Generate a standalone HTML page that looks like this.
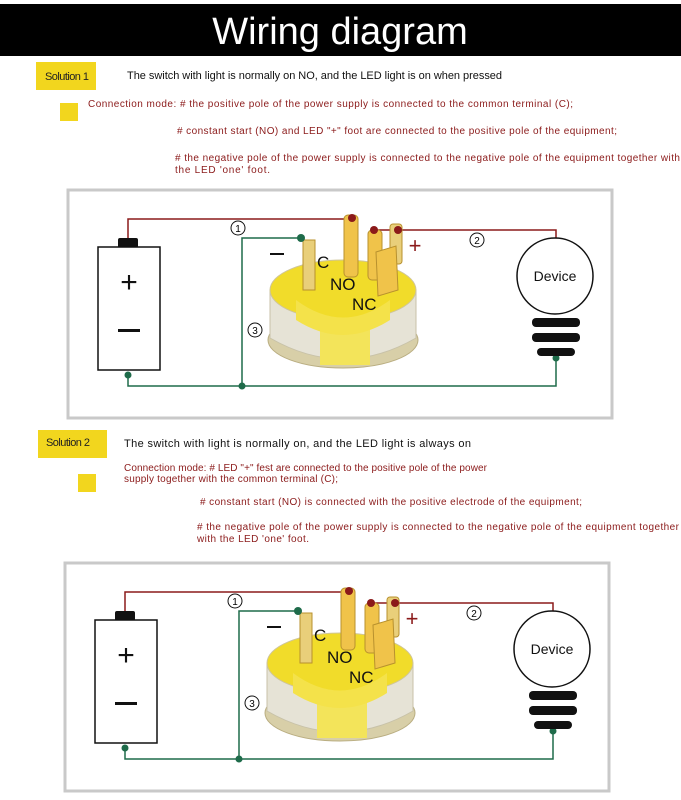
<!DOCTYPE html>
<html><head><meta charset="utf-8"><style>
html,body{margin:0;padding:0;background:#fff;width:681px;height:800px;overflow:hidden}
svg{display:block;font-family:"Liberation Sans",sans-serif}
</style></head><body>
<svg width="681" height="800" viewBox="0 0 681 800" xmlns="http://www.w3.org/2000/svg">
<defs>
<g id="diag">
  <rect x="68" y="190" width="544" height="228" fill="#fff" stroke="#c9c9c9" stroke-width="3"/>
  <!-- battery -->
  <rect x="118" y="238" width="20" height="10" rx="2" fill="#111"/>
  <rect x="98" y="247" width="62" height="123" fill="#fff" stroke="#111" stroke-width="1.5"/>
  <text x="129" y="292" font-size="30" text-anchor="middle" fill="#111">+</text>
  <rect x="118" y="329" width="22" height="3" fill="#111"/>
  <!-- wires -->
  <polyline points="128,238 128,219 352,219 352,228" fill="none" stroke="#8b1a1a" stroke-width="1.5"/>
  <polyline points="376,230 556,230 556,238" fill="none" stroke="#8b1a1a" stroke-width="1.5"/>
  <polyline points="301,238 242,238 242,386" fill="none" stroke="#1e6b4a" stroke-width="1.5"/>
  <polyline points="128,375 128,386 556,386 556,356" fill="none" stroke="#1e6b4a" stroke-width="1.5"/>
  <circle cx="128" cy="375" r="3.5" fill="#1e6b4a"/>
  <circle cx="242" cy="386" r="3.5" fill="#1e6b4a"/>
  <circle cx="556" cy="358" r="3.5" fill="#1e6b4a"/>
  <!-- switch body -->
  <ellipse cx="343" cy="340" rx="75" ry="28" fill="#d8cfa8" stroke="#b9ad80"/>
  <path d="M270 290 L270 338 Q343 380 416 338 L416 290 Z" fill="#e6e3d6" stroke="#c8c2a8"/>
  <rect x="320" y="330" width="50" height="35" fill="#f3e45a"/>
  <ellipse cx="343" cy="290" rx="73" ry="30" fill="#f1dc2a" stroke="#cfc59a"/>
  <path d="M296 300 Q343 335 390 300 L390 320 Q343 350 296 320Z" fill="#f4e24a"/>
  <!-- terminals -->
  <rect x="303" y="240" width="12" height="50" fill="#e9cf7a" stroke="#b8912e"/>
  <rect x="344" y="215" width="14" height="62" rx="4" fill="#f0c34a" stroke="#b8912e"/>
  <rect x="368" y="230" width="14" height="50" rx="4" fill="#f0c34a" stroke="#b8912e"/>
  <rect x="390" y="224" width="12" height="40" rx="3" fill="#e9cf7a" stroke="#b8912e"/>
  <path d="M376 252 L396 246 L398 290 L378 296 Z" fill="#f0c34a" stroke="#b8912e"/>
  <text x="317" y="268" font-size="17" fill="#111">C</text>
  <text x="330" y="290" font-size="17" fill="#111">NO</text>
  <text x="352" y="310" font-size="17" fill="#111">NC</text>
  <circle cx="352" cy="218" r="4" fill="#8b1a1a"/>
  <circle cx="374" cy="230" r="4" fill="#8b1a1a"/>
  <circle cx="398" cy="230" r="4" fill="#8b1a1a"/>
  <circle cx="301" cy="238" r="4" fill="#1e6b4a"/>
  <!-- labels -->
  <circle cx="238" cy="228" r="7" fill="#fff" stroke="#111"/><text x="238" y="232" font-size="10" text-anchor="middle">1</text>
  <circle cx="477" cy="240" r="7" fill="#fff" stroke="#111"/><text x="477" y="244" font-size="10" text-anchor="middle">2</text>
  <circle cx="255" cy="330" r="7" fill="#fff" stroke="#111"/><text x="255" y="334" font-size="10" text-anchor="middle">3</text>
  <text x="415" y="253" font-size="22" text-anchor="middle" fill="#8b1a1a">+</text>
  <rect x="270" y="253" width="14" height="2" fill="#111"/>
  <!-- device -->
  <circle cx="555" cy="276" r="38" fill="#fff" stroke="#111" stroke-width="1.5"/>
  <text x="555" y="281" font-size="14" text-anchor="middle" fill="#111">Device</text>
  <rect x="532" y="318" width="48" height="9" rx="4" fill="#111"/>
  <rect x="532" y="333" width="48" height="9" rx="4" fill="#111"/>
  <rect x="537" y="348" width="38" height="8" rx="4" fill="#111"/>
</g>
</defs>
<rect x="0" y="4" width="681" height="52" fill="#000"/>
<text x="340" y="44" font-size="38" text-anchor="middle" fill="#fff">Wiring diagram</text>

<rect x="36" y="62" width="60" height="28" fill="#f2d61e"/>
<text x="45" y="80" font-size="11" textLength="44" fill="#222">Solution 1</text>
<text x="127" y="79" font-size="11" textLength="375" fill="#111">The switch with light is normally on NO, and the LED light is on when pressed</text>
<rect x="60" y="103" width="18" height="18" fill="#f2d61e"/>
<g font-size="10" fill="#8b1a1a">
<text x="88" y="107" textLength="485">Connection mode: # the positive pole of the power supply is connected to the common terminal (C);</text>
<text x="177" y="134" textLength="440"># constant start (NO) and LED "+" foot are connected to the positive pole of the equipment;</text>
<text x="175" y="161" textLength="505"># the negative pole of the power supply is connected to the negative pole of the equipment together with</text>
<text x="175" y="173" textLength="95">the LED 'one' foot.</text>
</g>
<use href="#diag"/>

<rect x="38" y="430" width="69" height="28" fill="#f2d61e"/>
<text x="46" y="446" font-size="11" textLength="44" fill="#222">Solution 2</text>
<text x="124" y="447" font-size="11" textLength="347" fill="#111">The switch with light is normally on, and the LED light is always on</text>
<rect x="78" y="474" width="18" height="18" fill="#f2d61e"/>
<g font-size="10" fill="#8b1a1a">
<text x="124" y="471" textLength="363">Connection mode: # LED "+" fest are connected to the positive pole of the power</text>
<text x="124" y="482" textLength="214">supply together with the common terminal (C);</text>
<text x="200" y="505" textLength="382"># constant start (NO) is connected with the positive electrode of the equipment;</text>
<text x="197" y="530" textLength="482"># the negative pole of the power supply is connected to the negative pole of the equipment together</text>
<text x="197" y="542" textLength="112">with the LED 'one' foot.</text>
</g>
<use href="#diag" transform="translate(-3,373)"/>
</svg>
</body></html>
